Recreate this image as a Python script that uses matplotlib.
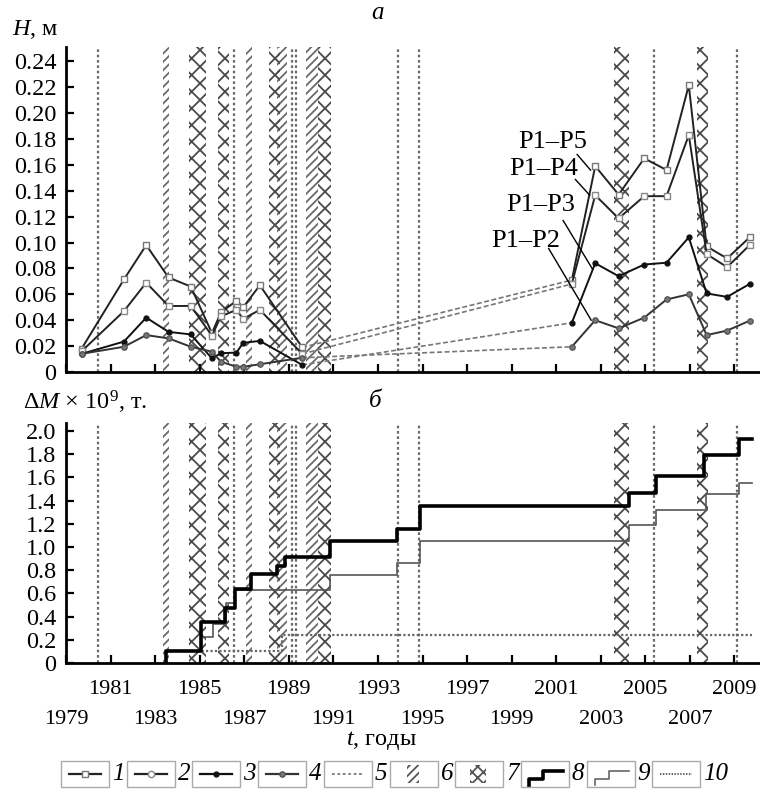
import matplotlib
matplotlib.use("Agg")
import matplotlib.pyplot as plt
from matplotlib.patches import Rectangle
from matplotlib.lines import Line2D

plt.rcParams['font.family'] = ['Liberation Serif', 'DejaVu Serif']
plt.rcParams['mathtext.fontset'] = 'custom'
plt.rcParams['mathtext.rm'] = 'Liberation Serif'
plt.rcParams['mathtext.it'] = 'Liberation Serif:italic'
plt.rcParams['hatch.linewidth'] = 1.3

# ---------------- data: panel a (H, m) ----------------
early_years = [1979.7, 1981.6, 1982.6, 1983.6, 1984.6, 1985.55, 1985.95, 1986.65, 1986.95, 1987.7, 1989.6]
late_years = [2001.7, 2002.75, 2003.8, 2004.95, 2005.95, 2006.95, 2007.75, 2008.67, 2009.68]

p15_early = [0.018, 0.0715, 0.098, 0.073, 0.066, 0.030, 0.046, 0.055, 0.050, 0.067, 0.019]
p14_early = [0.016, 0.047, 0.069, 0.051, 0.051, 0.028, 0.043, 0.048, 0.041, 0.048, 0.014]
p13_early = [0.014, 0.0235, 0.042, 0.031, 0.029, 0.0105, 0.0145, 0.015, 0.0225, 0.024, 0.0055]
p12_early = [0.014, 0.0195, 0.0285, 0.026, 0.0195, 0.0157, 0.008, 0.004, 0.004, 0.006, 0.011]

p15_late = [0.071, 0.159, 0.137, 0.165, 0.156, 0.2215, 0.097, 0.0877, 0.104]
p14_late = [0.068, 0.1366, 0.1186, 0.1358, 0.1358, 0.183, 0.091, 0.081, 0.098]
p13_late = [0.038, 0.084, 0.074, 0.083, 0.0844, 0.104, 0.0607, 0.058, 0.068]
p12_late = [0.0195, 0.040, 0.0337, 0.042, 0.056, 0.060, 0.0285, 0.032, 0.0396]

series_labels = ['P1–P5', 'P1–P4', 'P1–P3', 'P1–P2']

# ---------------- data: panel b (dM) ----------------
s8_years = [1983.5, 1983.5, 1985.05, 1986.15, 1986.6, 1987.28, 1988.48, 1988.85, 1990.87,
            1993.86, 1994.9, 2004.25, 2005.5, 2007.65, 2009.19, 2009.8]
s8_vals = [0.0, 0.1, 0.35, 0.475, 0.635, 0.765, 0.84, 0.915, 1.05,
           1.155, 1.35, 1.465, 1.617, 1.797, 1.93, 1.93]
s9_years = [1983.5, 1985.07, 1985.6, 1986.16, 1986.6, 1990.87, 1993.86, 1994.9,
            2004.25, 2005.5, 2007.7, 2009.19, 2009.8]
s9_vals = [0.1, 0.22, 0.34, 0.515, 0.63, 0.755, 0.86, 1.055,
           1.186, 1.316, 1.46, 1.552, 1.552]
s10_years = [1983.5, 1988.7, 2009.8]
s10_vals = [0.1, 0.245, 0.245]

# ---------------- events ----------------
ev5_lines = [1980.45, 1986.55, 1989.12, 1989.3, 1993.9, 1994.85, 2005.4, 2009.1]
ev6_start = [1983.35, 1987.1, 1988.45, 1989.75]
ev6_end = [1983.6, 1987.35, 1988.9, 1990.3]
ev7_start = [1984.5, 1985.8, 1988.1, 1990.3, 2003.6, 2007.3]
ev7_end = [1985.3, 1986.3, 1988.6, 1990.9, 2004.25, 2007.8]

major_years = list(range(1981, 2010, 4))
minor_years = list(range(1979, 2010, 4))

W, H = 760, 791
fig = plt.figure(figsize=(W / 100, H / 100), dpi=100)

def fx(px):
    return px / W

def fy(py):
    return 1 - py / H

ax1 = fig.add_axes([fx(66), fy(372), fx(759 - 66), (372 - 47) / H])
ax2 = fig.add_axes([fx(66), fy(663), fx(759 - 66), (663 - 423) / H])

for ax in (ax1, ax2):
    for s, e in zip(ev6_start, ev6_end):
        ax.axvspan(s, e, facecolor='none', edgecolor='#6a6a6a', hatch='////', lw=0, zorder=1)
    for s, e in zip(ev7_start, ev7_end):
        ax.axvspan(s, e, facecolor='none', edgecolor='#4a4a4a', hatch='xx', lw=0, zorder=1)
    for x in ev5_lines:
        ax.axvline(x, color='#6a6a6a', lw=1.6, ls=(0, (1.2, 1.2)), zorder=1)
    ax.set_xlim(1979, 2010.1)
    ax.spines['top'].set_visible(False)
    ax.spines['right'].set_visible(False)
    ax.spines['left'].set_linewidth(2.0)
    ax.spines['bottom'].set_linewidth(2.0)
    ax.set_xticks(major_years)
    ax.set_xticks(minor_years, minor=True)
    ax.tick_params(axis='both', which='both', direction='in', width=1.6)
    ax.tick_params(axis='x', which='both', length=6, labelsize=16)
    ax.tick_params(axis='y', which='both', length=6, pad=7, labelsize=17.5)

# panel a
styles = [
    dict(color='#222222', marker='s', mfc='white', mec='#777777', ms=4.5),
    dict(color='#222222', marker='s', mfc='white', mec='#888888', ms=4.5),
    dict(color='#111111', marker='o', mfc='#111111', mec='#111111', ms=3.5),
    dict(color='#333333', marker='o', mfc='#777777', mec='#555555', ms=3.8),
]
early = [p15_early, p14_early, p13_early, p12_early]
late = [p15_late, p14_late, p13_late, p12_late]
for ev, lv, st in zip(early, late, styles):
    ax1.plot([early_years[-1], late_years[0]], [ev[-1], lv[0]], color='#777777', lw=1.2,
             ls=(0, (3, 1.5)), zorder=2)
    ax1.plot(early_years, ev, lw=1.4, zorder=3, **st)
    ax1.plot(late_years, lv, lw=1.4, zorder=3, **st)

ax1.set_ylim(0, 0.251)
yt1 = [i * 0.02 for i in range(13)]
ax1.set_yticks(yt1, ['0'] + [f'{v:.2f}' for v in yt1[1:]])
ax1.tick_params(axis='x', which='both', labelbottom=False)

ann = [((2002.54, 0.1559), (2001.94, 0.168), (2000.86, 0.1777)),
       ((2002.5, 0.1366), (2001.86, 0.1487), (2000.44, 0.157)),
       ((2002.61, 0.080), (2001.31, 0.117), (2000.32, 0.1289)),
       ((2002.57, 0.040), (2000.66, 0.0954), (1999.63, 0.1013))]
for lab, (xy, start, txt) in zip(series_labels, ann):
    ax1.plot([start[0], xy[0]], [start[1], xy[1]], color='black', lw=1.0, zorder=4)
    ax1.text(txt[0], txt[1], lab, fontsize=19, ha='center', va='center', zorder=5)

# panel b
ax2.step(s8_years, s8_vals, where='post', color='black', lw=2.6, zorder=4)
ax2.step(s9_years, s9_vals, where='post', color='#555555', lw=1.2, zorder=3)
ax2.step(s10_years, s10_vals, where='post', color='#666666', lw=1.6, ls=(0, (1, 1)), zorder=3)
ax2.set_ylim(0, 2.07)
yt2 = [i * 0.2 for i in range(11)]
ax2.set_yticks(yt2, ['0'] + [f'{v:.1f}' for v in yt2[1:]])
ax2.set_xticks(major_years, [str(y) for y in major_years])
ax2.set_xticks(minor_years, [str(y) for y in minor_years], minor=True)
ax2.tick_params(axis='x', which='major', pad=12)
ax2.tick_params(axis='x', which='minor', pad=34)

# texts
fig.text(fx(12), fy(35), '$H$, м', fontsize=17.5, ha='left', va='baseline')
fig.text(fx(377), fy(19), 'а', fontsize=18, style='italic', ha='center', va='baseline')
fig.text(fx(23), fy(410), 'Δ$M$ × 10$^9$, т.', fontsize=17.5, ha='left', va='baseline')
fig.text(fx(375), fy(407), 'б', fontsize=18, style='italic', ha='center', va='baseline')
fig.text(fx(381), fy(740), '$t$, годы', fontsize=17.5, ha='center', va='center')

# legend drawn in pixel space
lg = fig.add_axes([0, 0, 1, 1], zorder=-1)
lg.set_xlim(0, W)
lg.set_ylim(H, 0)
lg.axis('off')
lg.patch.set_alpha(0)
yc = 774
for i in range(10):
    x0 = 61 + i * 65.7
    lg.add_patch(Rectangle((x0, 761), 48, 26, facecolor='white', edgecolor='#aaaaaa', lw=1.0))
    lg.text(x0 + 51, yc, str(i + 1), fontsize=18, style='italic', ha='left', va='center')
    if i < 4:
        st = styles[i].copy()
        if i == 1:
            st['marker'] = 'o'
        lg.add_line(Line2D([x0 + 8, x0 + 40], [yc, yc], lw=1.6, color=st['color']))
        lg.add_line(Line2D([x0 + 24], [yc], lw=0, marker=st['marker'], mfc=st['mfc'], mec=st['mec'], ms=st['ms']))
    elif i == 4:
        lg.add_line(Line2D([x0 + 8, x0 + 40], [yc, yc], lw=1.3, color='#777777', ls=(0, (1.5, 1.5))))
    elif i == 5:
        lg.add_patch(Rectangle((x0 + 17, 765), 12, 18, facecolor='none', edgecolor='#555555', hatch='////', lw=0))
    elif i == 6:
        lg.add_patch(Rectangle((x0 + 15, 765), 16, 18, facecolor='none', edgecolor='#555555', hatch='xxx', lw=0))
    elif i == 7:
        lg.add_line(Line2D([x0 + 8, x0 + 8, x0 + 22, x0 + 22, x0 + 42],
                           [785, 779, 779, 771, 771], color='black', lw=2.6))
    elif i == 8:
        lg.add_line(Line2D([x0 + 8, x0 + 8, x0 + 22, x0 + 22, x0 + 42],
                           [785, 779, 779, 771, 771], color='#666666', lw=1.2))
    else:
        lg.add_line(Line2D([x0 + 8, x0 + 40], [yc, yc], lw=1.3, color='#555555', ls=(0, (0.8, 0.8))))

fig.savefig('out.png', dpi=100)
